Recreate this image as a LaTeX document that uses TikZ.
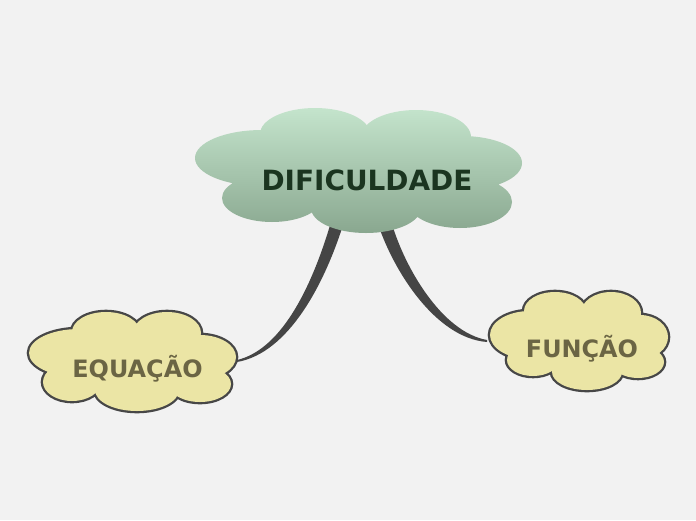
\documentclass[tikz,border=0pt]{standalone}
\usepackage{fontspec}
\setmainfont{DejaVu Sans}
\definecolor{bgcol}{HTML}{F2F2F2}
\definecolor{linkcol}{HTML}{454545}
\definecolor{outlinecol}{HTML}{474747}
\definecolor{yellowfill}{HTML}{EBE5A5}
\definecolor{subtextcol}{HTML}{6B6544}
\definecolor{toptextcol}{HTML}{1B3520}
\definecolor{greentop}{HTML}{C5E5CD}
\definecolor{greenbottom}{HTML}{88A68E}
\newcommand\centralcloud{%
 (315,134) ellipse [x radius=55, y radius=26]
 (416,137) ellipse [x radius=55, y radius=27]
 (262,158) ellipse [x radius=67, y radius=28]
 (462,163) ellipse [x radius=60, y radius=27]
 (272,198) ellipse [x radius=50, y radius=24]
 (366,208) ellipse [x radius=55, y radius=25]
 (460,202) ellipse [x radius=52, y radius=26]
 (365,170) ellipse [x radius=130, y radius=40]}
\newcommand\eqcloud{%
 (106,332) ellipse [x radius=34, y radius=20]
 (167,333) ellipse [x radius=34, y radius=21]
 (79,353) ellipse [x radius=50, y radius=24]
 (200,357) ellipse [x radius=36, y radius=22]
 (72,382) ellipse [x radius=29, y radius=19]
 (137,390) ellipse [x radius=42, y radius=21]
 (200,384) ellipse [x radius=31, y radius=18]
 (135,360) ellipse [x radius=80, y radius=30]}
\newcommand\funcloud{%
 (555,311) ellipse [x radius=31, y radius=19]
 (611,313) ellipse [x radius=30, y radius=21]
 (530,335) ellipse [x radius=40, y radius=24]
 (640,337) ellipse [x radius=28, y radius=22]
 (533,360) ellipse [x radius=26, y radius=16]
 (587,372) ellipse [x radius=35, y radius=18]
 (638,362) ellipse [x radius=26, y radius=16]
 (580,340) ellipse [x radius=65, y radius=30]}
\begin{document}
\begin{tikzpicture}[x=1pt,y=-1pt,
  toptext/.style={font=\bfseries\fontsize{27.9}{30}\selectfont, text=toptextcol, inner sep=0pt, anchor=base},
  subtext/.style={font=\bfseries\fontsize{23.9}{26}\selectfont, text=subtextcol, inner sep=0pt, anchor=base},
  linkshape/.style={fill=linkcol, draw=none},
  cloudedge/.style={draw=outlinecol, line width=4.6pt},
  cloudfill/.style={fill=yellowfill, draw=none}]
\fill[bgcol] (0,0) rectangle (696,520);
\useasboundingbox (0,0) rectangle (696,520);
% anchor coordinates of the connectors
\coordinate (difL1) at (331,222);
\coordinate (difL2) at (344,222);
\coordinate (eqEnd1) at (237,360);
\coordinate (eqEnd2) at (237,362);
\coordinate (difR1) at (392,224);
\coordinate (difR2) at (378,224);
\coordinate (funEnd1) at (487,340);
\coordinate (funEnd2) at (487,342);
% connectors
\path[linkshape] (difL1) .. controls (314,280) and (284,349) .. (eqEnd1)
   -- (eqEnd2) .. controls (289,353) and (325,283) .. (difL2) -- cycle;
\path[linkshape] (difR1) .. controls (405,268) and (442,332) .. (funEnd1)
   -- (funEnd2) .. controls (436,338) and (394,272) .. (difR2) -- cycle;
% central cloud
\begin{scope}
  \clip \centralcloud;
  \shade[top color=greentop, bottom color=greenbottom] (190,106) rectangle (530,236);
\end{scope}
% EQUACAO cloud
\path[cloudedge] \eqcloud;
\path[cloudfill] \eqcloud;
% FUNCAO cloud
\path[cloudedge] \funcloud;
\path[cloudfill] \funcloud;
% texts
\node[toptext] (dif) at (367,190) {DIFICULDADE};
\node[subtext] (eq) at (137.5,377) {EQUAÇÃO};
\node[subtext] (fun) at (582,357) {FUNÇÃO};
\end{tikzpicture}
\end{document}
